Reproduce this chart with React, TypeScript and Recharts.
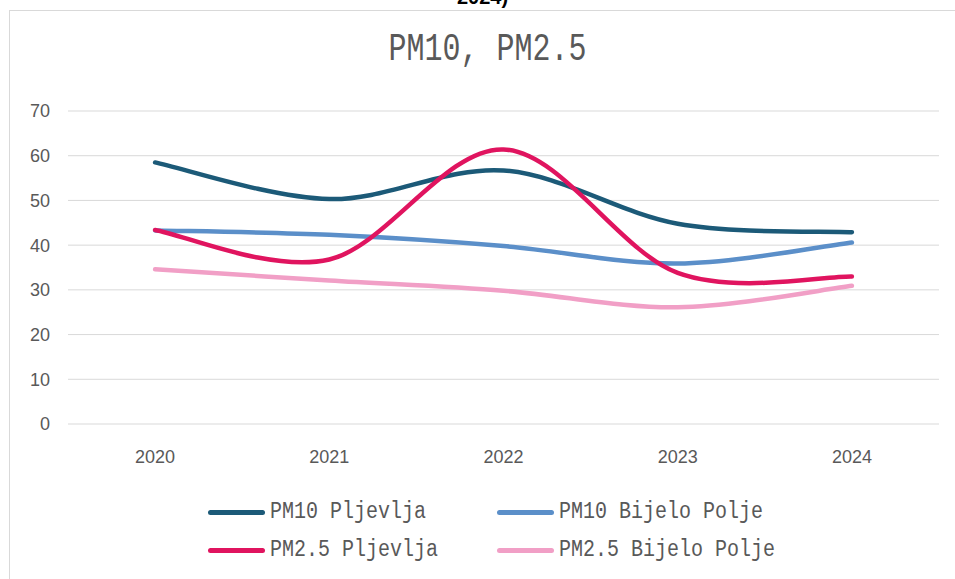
import { LineChart, Line, XAxis, YAxis, CartesianGrid } from 'recharts'

const years = ['2020', '2021', '2022', '2023', '2024']
const pm10Pljevlja = [58.5, 50.3, 56.7, 44.8, 42.9]
const pm10BijeloPolje = [43.3, 42.3, 39.8, 35.9, 40.6]
const pm25Pljevlja = [43.4, 36.8, 61.4, 33.8, 33.0]
const pm25BijeloPolje = [34.6, 32.1, 29.8, 26.1, 30.9]
const yTicks = [0, 10, 20, 30, 40, 50, 60, 70]

const series = [
    { key: 'pm10P', name: 'PM10 Pljevlja', values: pm10Pljevlja, color: '#1c5a78' },
    { key: 'pm10B', name: 'PM10 Bijelo Polje', values: pm10BijeloPolje, color: '#5b8fc9' },
    { key: 'pm25P', name: 'PM2.5 Pljevlja', values: pm25Pljevlja, color: '#e0145f' },
    { key: 'pm25B', name: 'PM2.5 Bijelo Polje', values: pm25BijeloPolje, color: '#f19fc6' },
]

const data = years.map((year, i) => {
    const row: Record<string, string | number> = { year }
    series.forEach(s => { row[s.key] = s.values[i] })
    return row
})

// smooth line like the office "smoothed line" option (catmull-rom through the points)
function smoothCurve(context: any) {
    let pts: number[][] = []
    return {
        areaStart() {},
        areaEnd() {},
        lineStart() { pts = [] },
        point(x: number, y: number) { pts.push([+x, +y]) },
        lineEnd() {
            if (!pts.length) return
            context.moveTo(pts[0][0], pts[0][1])
            for (let i = 0; i < pts.length - 1; i++) {
                const p0 = pts[i - 1] || pts[i]
                const p1 = pts[i]
                const p2 = pts[i + 1]
                const p3 = pts[i + 2] || pts[i + 1]
                context.bezierCurveTo(
                    p1[0] + (p2[0] - p0[0]) / 6, p1[1] + (p2[1] - p0[1]) / 6,
                    p2[0] - (p3[0] - p1[0]) / 6, p2[1] - (p3[1] - p1[1]) / 6,
                    p2[0], p2[1]
                )
            }
        },
    }
}

const tickFont = { fontFamily: '"Liberation Sans", Arial, sans-serif', fontSize: 18, fill: '#595959' }
const monoFont = '"Liberation Mono", "DejaVu Sans Mono", monospace'

const legendCols = [208, 497]
const legendRows = [512, 550]

export default function App() {
    return (
        <div style={{ position: 'absolute', left: 0, top: 0, width: 955, height: 579, overflow: 'hidden', background: '#fff' }}>
            <div style={{ position: 'absolute', left: 0, width: 955, top: -13, textAlign: 'center', paddingLeft: 10, boxSizing: 'border-box', fontFamily: '"Liberation Sans", Arial, sans-serif', fontWeight: 'bold', fontSize: 20, lineHeight: '20px', color: '#000' }}>
                2024)
            </div>
            <div style={{ position: 'absolute', left: 9, top: 10, width: 980, height: 600, border: '1px solid #d9d9d9' }} />
            <div style={{ position: 'absolute', left: 0, top: 0 }}>
                <LineChart width={955} height={579} data={data} margin={{ top: 111, right: 16, bottom: 125, left: 8 }}>
                    <CartesianGrid vertical={false} stroke="#d9d9d9" strokeWidth={1} />
                    <XAxis dataKey="year" scale="band" axisLine={false} tickLine={false} tickMargin={20} height={30} tick={tickFont} />
                    <YAxis domain={[0, 70]} ticks={yTicks} width={60} axisLine={false} tickLine={false} tickMargin={12} tick={tickFont} />
                    {series.map(s => (
                        <Line
                            key={s.key}
                            dataKey={s.key}
                            name={s.name}
                            type={smoothCurve as any}
                            stroke={s.color}
                            strokeWidth={4.5}
                            strokeLinecap="round"
                            dot={false}
                            activeDot={false}
                            isAnimationActive={false}
                        />
                    ))}
                </LineChart>
            </div>
            <div style={{ position: 'absolute', left: 0, width: 975, top: 33, textAlign: 'center', fontFamily: monoFont, fontSize: 30, lineHeight: '34px', color: '#595959', transform: 'scaleY(1.3)' }}>
                PM10, PM2.5
            </div>
            {series.map((s, i) => {
                const left = legendCols[i % 2]
                const top = legendRows[Math.floor(i / 2)]
                return (
                    <div key={s.key} style={{ position: 'absolute', left, top: top - 12, height: 24, display: 'flex', alignItems: 'center' }}>
                        <div style={{ width: 57, height: 5, borderRadius: 3, background: s.color }} />
                        <span style={{ marginLeft: 5, fontFamily: monoFont, fontSize: 20, lineHeight: '24px', color: '#595959', transform: 'scaleY(1.15)', whiteSpace: 'pre' }}>
                            {s.name}
                        </span>
                    </div>
                )
            })}
        </div>
    )
}
